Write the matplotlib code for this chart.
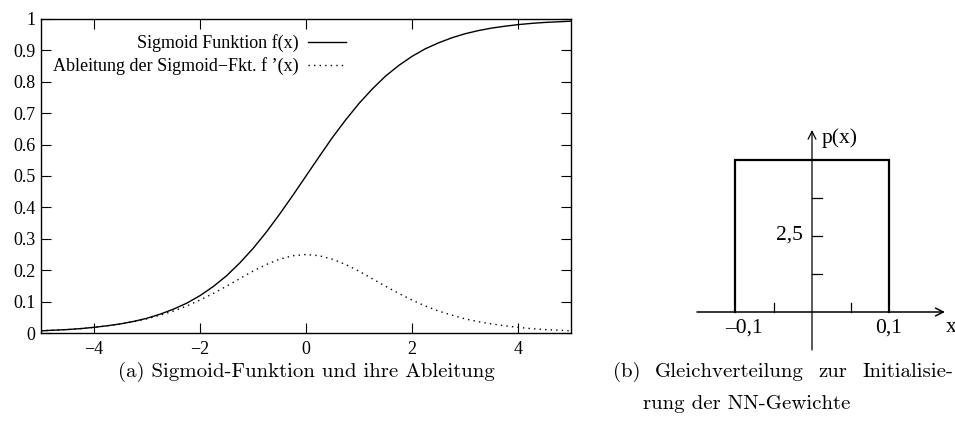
import matplotlib
matplotlib.use("Agg")
import matplotlib.pyplot as plt

# Werte (Schrittweite 0.25)
x_werte = [-5.0, -4.75, -4.5, -4.25, -4.0, -3.75, -3.5, -3.25, -3.0, -2.75, -2.5,
           -2.25, -2.0, -1.75, -1.5, -1.25, -1.0, -0.75, -0.5, -0.25, 0.0,
           0.25, 0.5, 0.75, 1.0, 1.25, 1.5, 1.75, 2.0, 2.25, 2.5,
           2.75, 3.0, 3.25, 3.5, 3.75, 4.0, 4.25, 4.5, 4.75, 5.0]
sigmoid = [0.007, 0.009, 0.011, 0.014, 0.018, 0.023, 0.029, 0.037, 0.047, 0.060, 0.076,
           0.095, 0.119, 0.148, 0.182, 0.223, 0.269, 0.321, 0.378, 0.438, 0.500,
           0.562, 0.623, 0.679, 0.731, 0.777, 0.818, 0.852, 0.881, 0.905, 0.924,
           0.940, 0.953, 0.963, 0.971, 0.977, 0.982, 0.986, 0.989, 0.991, 0.993]
ableitung = [0.007, 0.009, 0.011, 0.014, 0.018, 0.023, 0.029, 0.036, 0.045, 0.057, 0.070,
             0.086, 0.105, 0.126, 0.149, 0.173, 0.197, 0.218, 0.235, 0.246, 0.250,
             0.246, 0.235, 0.218, 0.197, 0.173, 0.149, 0.126, 0.105, 0.086, 0.070,
             0.057, 0.045, 0.036, 0.029, 0.023, 0.018, 0.014, 0.011, 0.009, 0.007]

x_ticks = [-4, -2, 0, 2, 4]
x_tick_labels = ["\u22124", "\u22122", "0", "2", "4"]
y_ticks = [0, 0.1, 0.2, 0.3, 0.4, 0.5, 0.6, 0.7, 0.8, 0.9, 1]
y_tick_labels = ["0", "0.1", "0.2", "0.3", "0.4", "0.5", "0.6", "0.7", "0.8", "0.9", "1"]

label_f = "Sigmoid Funktion f(x)"
label_df = "Ableitung der Sigmoid\u2212Fkt. f \u2019(x)"

# Gleichverteilung auf [-0,1; 0,1]
vert_x = [-0.1, -0.1, 0.1, 0.1]
vert_p = [0, 5, 5, 0]
xmarken = [-0.05, 0.05]
pmarken = [1.25, 2.5, 3.75]

caption_a = "(a) Sigmoid-Funktion und ihre Ableitung"
caption_b1 = ["(b)", "Gleichverteilung", "zur", "Initialisie-"]
caption_b2 = "rung der NN-Gewichte"

W, H = 955, 421
fig = plt.figure(figsize=(W / 100, H / 100), dpi=100)
serif = ["Liberation Serif", "DejaVu Serif"]
cap_size = 15

# ---------------- (a) ----------------
ax = fig.add_axes([41 / W, (H - 333) / H, 530 / W, 314 / H])
ax.plot(x_werte, sigmoid, color="black", lw=1.0, label=label_f)
ax.plot(x_werte, ableitung, color="black", lw=1.0, ls=(0, (1, 3)), label=label_df)
ax.set_xlim(-5, 5)
ax.set_ylim(0, 1)
ax.set_xticks(x_ticks)
ax.set_xticklabels(x_tick_labels, fontfamily=serif, fontsize=13)
ax.set_yticks(y_ticks)
ax.set_yticklabels(y_tick_labels, fontfamily=serif, fontsize=13)
ax.tick_params(direction="in", top=True, right=True, length=7, width=0.8)
ax.tick_params(axis="x", pad=6)
ax.tick_params(axis="y", pad=4)
for s in ax.spines.values():
    s.set_linewidth(1.0)
leg = ax.legend(loc="upper right", bbox_to_anchor=(346 / W, 1 - 34 / H),
                bbox_transform=fig.transFigure, frameon=False, borderpad=0,
                borderaxespad=0, markerfirst=False, handlelength=2.1,
                handletextpad=0.5, labelspacing=0.3,
                prop={"family": serif, "size": 13})

fig.text(306 / W, 1 - 372 / H, caption_a,
         family="cmr10", fontsize=cap_size, ha="center", va="center")

# ---------------- (b) ----------------
bx = fig.add_axes([690 / W, (H - 360) / H, 265 / W, 240 / H])
bx.set_xlim((690 - 812) / 770, (955 - 812) / 770)
bx.set_ylim((312 - 360) / 30.4, (312 - 120) / 30.4)
bx.axis("off")
bx.annotate("", xy=((945 - 812) / 770, 0), xytext=((697 - 812) / 770, 0),
            arrowprops=dict(arrowstyle="->", lw=1.1, color="black",
                            shrinkA=0, shrinkB=0, mutation_scale=14))
bx.annotate("", xy=(0, (312 - 130) / 30.4), xytext=(0, (312 - 350) / 30.4),
            arrowprops=dict(arrowstyle="->", lw=0.9, color="black",
                            shrinkA=0, shrinkB=0, mutation_scale=14))
bx.plot(vert_x, vert_p, color="black", lw=1.6, solid_joinstyle="miter")
for xm in xmarken:
    bx.plot([xm, xm], [0, 0.28], color="black", lw=0.9)
for pm in pmarken:
    bx.plot([0, 0.013], [pm, pm], color="black", lw=0.9)

bx.text(-0.0115, (312 - 240) / 30.4, "2,5", family=serif, fontsize=15.5,
        ha="right", va="baseline")
bx.text(0.012, (312 - 128) / 30.4, "p(x)", family=serif, fontsize=15.5,
        ha="left", va="top")
bx.text((946 - 812) / 770, (312 - 327) / 30.4, "x", family=serif, fontsize=15.5,
        ha="left", va="center")
bx.text((744 - 812) / 770, (312 - 328) / 30.4, "\u20130,1", family=serif,
        fontsize=15.5, ha="center", va="center")
bx.text(0.1, (312 - 328) / 30.4, "0,1", family=serif, fontsize=15.5,
        ha="center", va="center")

# erste Zeile im Blocksatz (613 .. 953 px), zweite Zeile linksbündig
renderer = fig.canvas.get_renderer()
woerter = [fig.text(0, 1 - 372 / H, w, family="cmr10", fontsize=cap_size,
                    ha="left", va="center") for w in caption_b1]
breiten = [t.get_window_extent(renderer).width for t in woerter]
luecke = (953 - 613 - sum(breiten)) / (len(woerter) - 1)
x_pos = 613
for t, b in zip(woerter, breiten):
    t.set_x(x_pos / W)
    x_pos += b + luecke
fig.text(643 / W, 1 - 404 / H, caption_b2,
         family="cmr10", fontsize=cap_size, ha="left", va="center")

fig.savefig("out.png", dpi=100)
